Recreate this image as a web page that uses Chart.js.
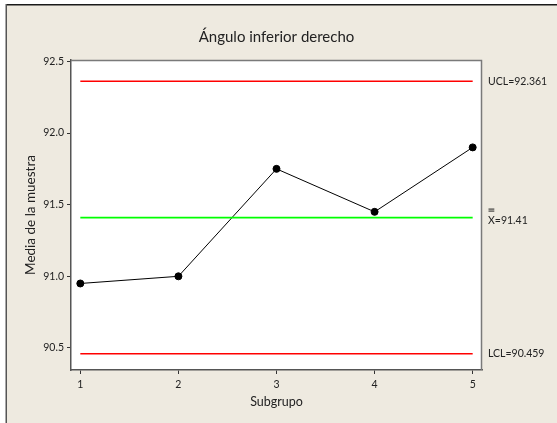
<!DOCTYPE html>
<html>
<head>
<meta charset="utf-8">
<script src="https://cdn.jsdelivr.net/npm/chart.js@4"></script>
<style>
  html, body { margin: 0; padding: 0; background: #fff; }
  #wrap { width: 557px; height: 423px; }
</style>
</head>
<body>
<div id="wrap"><canvas id="chart" width="557" height="423"></canvas></div>
<script>
// chart values
const subgroups = [1, 2, 3, 4, 5];
const sampleMeans = [90.95, 91.0, 91.75, 91.45, 91.9];
const ucl = 92.361;
const centerLine = 91.41;
const lcl = 90.459;
const limitLabels = ['UCL=92.361', 'X=91.41', 'LCL=90.459'];

const FONT = 'Lato, "Open Sans", sans-serif';
const TEXT = '#222';

// flat line across all subgroups for a limit value
function flatLine(v) {
    return subgroups.map(s => ({ x: s, y: v }));
}

// beige panel with a dark frame on top/left, like the Minitab export
const panelBackground = {
    id: 'panelBackground',
    beforeDraw(chart) {
        const ctx = chart.ctx;
        ctx.save();
        ctx.fillStyle = '#fff';
        ctx.fillRect(0, 0, chart.width, chart.height);
        ctx.fillStyle = '#EEEAE0';
        ctx.fillRect(6, 5, chart.width - 6, chart.height - 5);
        ctx.fillStyle = '#1a1a1a';
        ctx.fillRect(6, 4, chart.width - 6, 1.5);
        ctx.fillStyle = '#555';
        ctx.fillRect(5.5, 4, 1.5, chart.height - 4);
        // plot area is white
        const a = chart.chartArea;
        ctx.fillStyle = '#fff';
        ctx.fillRect(a.left, a.top, a.right - a.left, a.bottom - a.top);
        ctx.restore();
    }
};

// title, axis titles, frame and the limit labels on the right
const annotations = {
    id: 'annotations',
    afterDraw(chart) {
        const ctx = chart.ctx;
        const a = chart.chartArea;
        const y = chart.scales.y;
        ctx.save();
        // top and right edges of the plot frame
        ctx.strokeStyle = '#7a7a7a';
        ctx.lineWidth = 1.5;
        ctx.beginPath();
        ctx.moveTo(a.left, a.top + 0.5);
        ctx.lineTo(a.right - 0.5, a.top + 0.5);
        ctx.lineTo(a.right - 0.5, a.bottom);
        ctx.stroke();

        ctx.fillStyle = TEXT;
        ctx.textAlign = 'center';
        ctx.textBaseline = 'middle';
        ctx.font = '15px ' + FONT;
        ctx.fillText('Ángulo inferior derecho', (a.left + a.right) / 2, 37);
        ctx.font = '12.5px ' + FONT;
        ctx.fillText('Subgrupo', (a.left + a.right) / 2, 402);
        ctx.save();
        ctx.translate(31, (a.top + a.bottom) / 2);
        ctx.rotate(-Math.PI / 2);
        ctx.font = '13.5px ' + FONT;
        ctx.fillText('Media de la muestra', 0, 0);
        ctx.restore();

        // limit labels
        ctx.font = '10.5px ' + FONT;
        ctx.textAlign = 'left';
        const lx = a.right + 6;
        const vals = [ucl, centerLine, lcl];
        vals.forEach((v, i) => {
            const py = y.getPixelForValue(v);
            const yy = i === 1 ? py + 3 : py;
            ctx.fillText(limitLabels[i], lx, yy);
            if (i === 1) {
                // double bar over the X
                const w = ctx.measureText('X').width;
                ctx.fillRect(lx + 0.5, yy - 12, w - 1, 1);
                ctx.fillRect(lx + 0.5, yy - 10, w - 1, 1);
            }
        });
        ctx.restore();
    }
};

const axisStyle = {
    grid: { drawOnChartArea: false, drawTicks: true, tickLength: 4, color: '#333', lineWidth: 1 },
    border: { display: true, color: '#555', width: 1.5 },
};

new Chart(document.getElementById('chart'), {
    type: 'line',
    data: {
        datasets: [
            { data: flatLine(ucl), borderColor: '#ff0000', borderWidth: 1.5, pointRadius: 0 },
            { data: flatLine(centerLine), borderColor: '#00ff00', borderWidth: 1.6, pointRadius: 0 },
            { data: flatLine(lcl), borderColor: '#ff0000', borderWidth: 1.5, pointRadius: 0 },
            {
                data: subgroups.map((s, i) => ({ x: s, y: sampleMeans[i] })),
                borderColor: '#000', borderWidth: 1, pointRadius: 3.5,
                pointBackgroundColor: '#000', pointBorderColor: '#000'
            },
        ]
    },
    options: {
        responsive: false,
        animation: false,
        layout: { padding: { left: 0, top: 60, right: 75, bottom: 0 } },
        plugins: { legend: { display: false }, tooltip: { enabled: false } },
        scales: {
            x: {
                type: 'linear', min: 0.905, max: 5.095,
                ...axisStyle,
                ticks: { stepSize: 1, includeBounds: false, padding: 4, color: TEXT, font: { family: FONT, size: 10.5 } },
                afterFit(scale) { scale.height = 53; }
            },
            y: {
                type: 'linear', min: 90.346, max: 92.51,
                ...axisStyle,
                ticks: {
                    stepSize: 0.5, includeBounds: false, padding: 3, color: TEXT,
                    font: { family: FONT, size: 10.5 },
                    callback: v => v.toFixed(1)
                },
                afterFit(scale) { scale.width = 71; }
            }
        }
    },
    plugins: [panelBackground, annotations]
});
</script>
</body>
</html>
